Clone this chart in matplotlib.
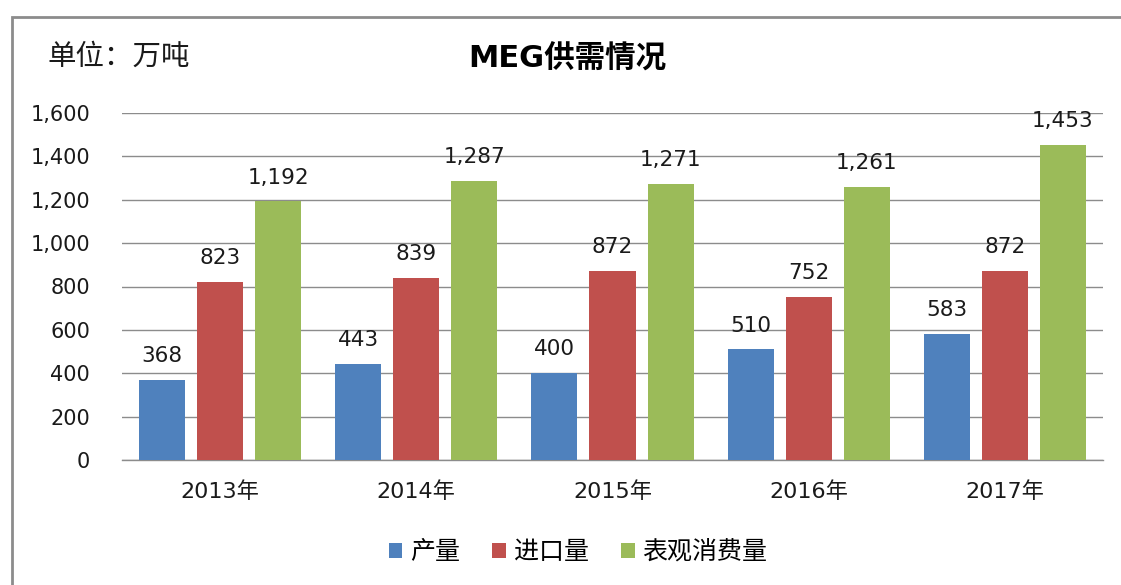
import matplotlib
matplotlib.use("Agg")
import matplotlib.pyplot as plt
import numpy as np
from matplotlib.patches import Rectangle, Patch

plt.rcParams['font.family'] = ['DejaVu Sans', 'Noto Sans CJK SC']
CJK = ['Noto Sans CJK SC', 'DejaVu Sans']

years = ['2013年', '2014年', '2015年', '2016年', '2017年']
series_names = ['产量', '进口量', '表观消费量']
production = [368, 443, 400, 510, 583]
imports = [823, 839, 872, 752, 872]
consumption = [1192, 1287, 1271, 1261, 1453]
colors = ['#4F81BD', '#C0504D', '#9BBB59']
yticks = [0, 200, 400, 600, 800, 1000, 1200, 1400, 1600]

W, H = 1121, 585
fig = plt.figure(figsize=(W / 100, H / 100), dpi=100)
fig.patch.set_facecolor('white')

# outer frame
fig.patches.append(Rectangle((12 / W, -0.1), 2.0, (H - 17) / H + 0.1,
                             transform=fig.transFigure, fill=False,
                             edgecolor='#8c8c8c', linewidth=2, zorder=0))

ax = fig.add_axes([122 / W, 1 - 460 / H, (1103 - 122) / W, (460 - 113) / H])
ax.set_facecolor('none')

x = np.arange(len(years))
bw = 0.235
step = 0.296
data = [production, imports, consumption]
for i, (vals, c, name) in enumerate(zip(data, colors, series_names)):
    pos = x + (i - 1) * step
    ax.bar(pos, vals, width=bw, color=c, label=name, zorder=3)
    for xp, v in zip(pos, vals):
        ax.annotate(f'{v:,}', (xp, v), xytext=(0, 10), textcoords='offset points',
                    ha='center', va='bottom', fontsize=15.5, color='#1a1a1a')

ax.set_xlim(-0.5, 4.5)
ax.set_ylim(0, 1600)
ax.set_yticks(yticks)
ax.set_yticklabels([f'{t:,}' for t in yticks], fontsize=15, color='#1a1a1a')
ax.set_xticks(x)
ax.set_xticklabels(years, fontsize=16, color='#1a1a1a')
ax.tick_params(axis='both', length=0)
ax.tick_params(axis='y', pad=23)
ax.tick_params(axis='x', pad=15)
ax.grid(axis='y', color='#8c8c8c', linewidth=1, zorder=0)
for s in ['top', 'right', 'left']:
    ax.spines[s].set_visible(False)
ax.spines['bottom'].set_color('#8c8c8c')
ax.spines['bottom'].set_linewidth(1)

fig.text(567 / W, 1 - 59 / H, 'MEG供需情况', ha='center', va='center',
         fontsize=22, fontweight='bold', color='#000000')
fig.text(47 / W, 1 - 57 / H, '单位：万吨', ha='left', va='center',
         fontsize=20.5, color='#1a1a1a', family=CJK)

handles = [Patch(facecolor=c, edgecolor='none') for c in colors]
fig.legend(handles, series_names, loc='center', bbox_to_anchor=(578 / W, 1 - 552 / H),
           ncol=3, frameon=False, prop={'family': CJK, 'size': 18},
           handlelength=0.55, handleheight=0.55,
           handletextpad=0.3, columnspacing=1.3)

fig.savefig('out.png', dpi=100, facecolor='white')
